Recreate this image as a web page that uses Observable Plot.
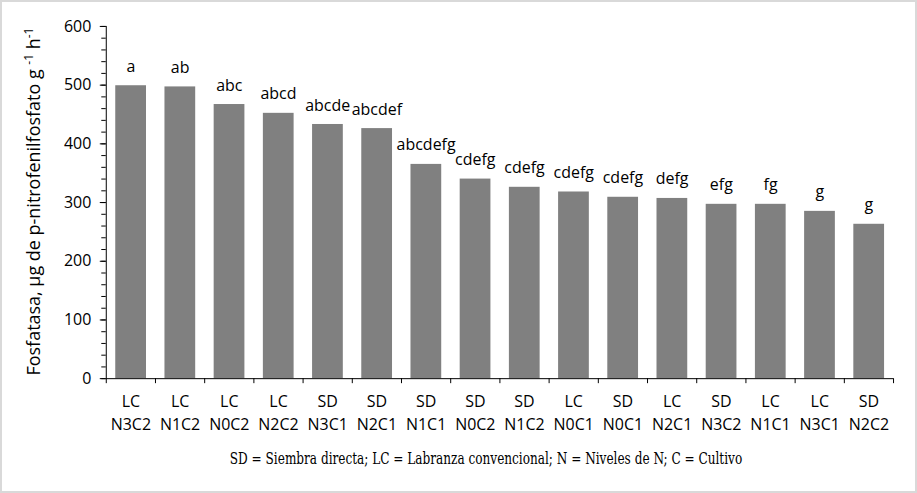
<!DOCTYPE html>
<html>
<head>
<meta charset="utf-8">
<script src="https://cdn.jsdelivr.net/npm/d3@7"></script>
<script src="https://cdn.jsdelivr.net/npm/@observablehq/plot@0.6"></script>
<style>
  html, body { margin: 0; padding: 0; background: #fff; }
  #frame {
    position: relative; width: 917px; height: 493px; box-sizing: border-box;
    border: 2px solid #d9d9d9; overflow: hidden; background: #fff;
  }
  #chart { position: absolute; left: -2px; top: -2px; }
  #caption {
    position: absolute; left: 25px; width: 917px; top: 447px; text-align: center;
    font-family: "DejaVu Serif Condensed", "DejaVu Serif", serif; font-size: 16px; color: #000;
  }
  #caption span { display: inline-block; transform: scaleX(0.84); transform-origin: center; white-space: nowrap; }
</style>
</head>
<body>
<div id="frame">
  <div id="chart"></div>
  <div id="caption"><span>SD = Siembra directa; LC = Labranza convencional; N = Niveles de N; C = Cultivo</span></div>
</div>
<script>
const tillage = ["LC","LC","LC","LC","SD","SD","SD","SD","SD","LC","SD","LC","SD","LC","LC","SD"];
const treatment = ["N3C2","N1C2","N0C2","N2C2","N3C1","N2C1","N1C1","N0C2","N1C2","N0C1","N0C1","N2C1","N3C2","N1C1","N3C1","N2C2"];
const values = [499, 497, 467, 452, 433, 426, 365, 340, 326, 318, 309, 307, 297, 297, 285, 263];
const letters = ["a","ab","abc","abcd","abcde","abcdef","abcdefg","cdefg","cdefg","cdefg","cdefg","defg","efg","fg","g","g"];
const yTicks = [0, 100, 200, 300, 400, 500, 600];
const yMinorTicks = d3.range(0, 601, 20);

const data = values.map((v, i) => ({i, value: v, letter: letters[i], till: tillage[i], trt: treatment[i]}));
const n = data.length;
const font = "'Open Sans', sans-serif";

const plot = Plot.plot({
  width: 917,
  height: 442,
  marginLeft: 106,
  marginRight: 22,
  marginTop: 26,
  marginBottom: 63,
  style: {fontFamily: font, color: "#000", background: "transparent"},
  x: {domain: [0, n], axis: null},
  y: {domain: [0, 600], axis: null},
  marks: [
    Plot.rectY(data, {x1: d => d.i, x2: d => d.i + 1, y1: 0, y2: "value", fill: "#808080", insetLeft: 9.5, insetRight: 9}),
    Plot.text(data, {x: d => d.i + 0.5, y: "value", text: "letter", lineAnchor: "bottom", dy: -14, fontSize: 16, fill: "#000"}),
    Plot.axisY({ticks: yMinorTicks, tickSize: 4.5, tickFormat: () => "", label: null, stroke: "#000"}),
    Plot.axisY({ticks: yTicks, tickSize: 6, tickPadding: 9, fontSize: 16, label: null, stroke: "#000", fill: "#000"}),
    Plot.axisX({ticks: d3.range(0, n + 1), tickSize: 5, tickFormat: () => "", label: null, stroke: "#000"}),
    Plot.axisX({ticks: d3.range(0, n).map(i => i + 0.5), tickSize: 0, tickPadding: 12, fontSize: 16, lineHeight: 1.44, label: null, fill: "#000",
      tickFormat: d => tillage[Math.floor(d)] + "\n" + treatment[Math.floor(d)]}),
    Plot.ruleX([0], {stroke: "#000"}),
    Plot.ruleY([0], {stroke: "#000"})
  ]
});

const svg = d3.select(plot);
const t = svg.append("text")
  .attr("transform", "translate(40,202) rotate(-90)")
  .attr("text-anchor", "middle")
  .attr("font-family", font)
  .attr("font-size", 18)
  .attr("fill", "#000");
t.append("tspan").text("Fosfatasa, \u03bcg de p-nitrofenilfosfato g ");
t.append("tspan").attr("dy", -7).attr("font-size", 12).text("-1");
t.append("tspan").attr("dy", 7).text(" h");
t.append("tspan").attr("dy", -7).attr("font-size", 12).text("-1");

document.getElementById("chart").appendChild(plot);
</script>
</body>
</html>
